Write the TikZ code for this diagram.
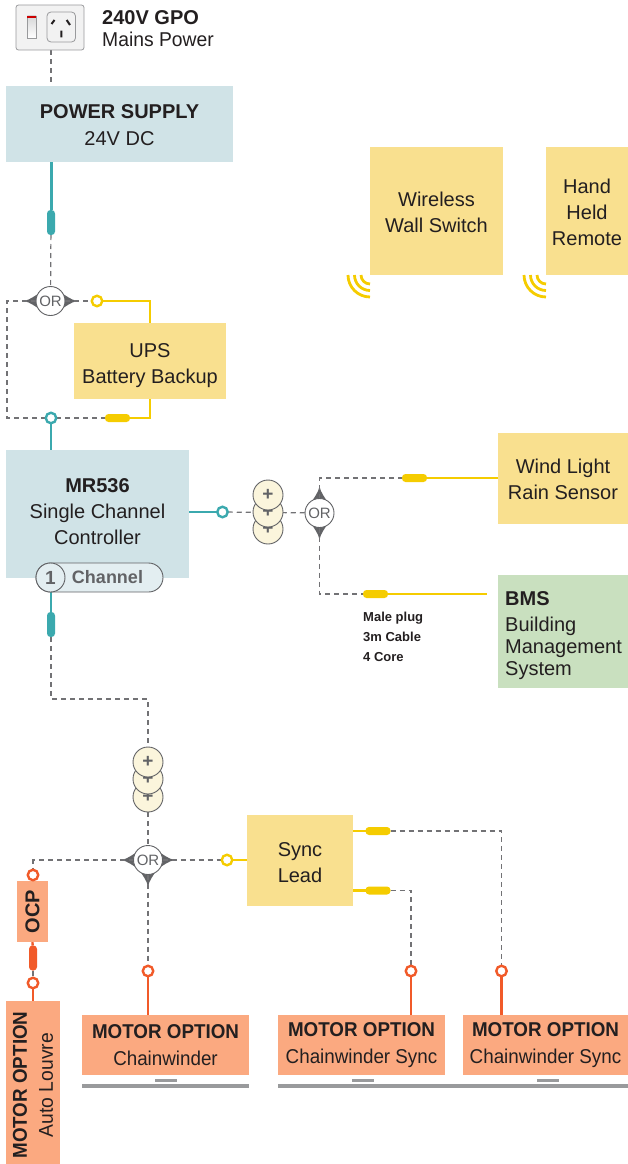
\documentclass[tikz,border=0pt]{standalone}
\usepackage{fontspec}
\setmainfont{Liberation Sans}
\newfontfamily\narrowfont[FakeStretch=.94]{Liberation Sans}
\newfontfamily\softfont[FakeStretch=.965]{Liberation Sans}
\usetikzlibrary{backgrounds}
\definecolor{supplyblue}{HTML}{D0E3E7}
\definecolor{cabteal}{HTML}{3BA9AE}
\definecolor{optyellow}{HTML}{F9E08F}
\definecolor{cabyellow}{HTML}{F5CC00}
\definecolor{motororange}{HTML}{FBA980}
\definecolor{cabred}{HTML}{F15A29}
\definecolor{bmsgreen}{HTML}{C9E0BF}
\definecolor{darktext}{HTML}{231F20}
\definecolor{midgray}{HTML}{626366}
\definecolor{bargray}{HTML}{999A9C}
\definecolor{pluscream}{HTML}{FBF5DC}
\newcommand{\toprow}[1]{\rule{0pt}{#1pt}}
\tikzset{
	box/.style={minimum width=#1, inner sep=0pt, outer sep=0pt, align=center, text=darktext,
		font=\fontsize{20}{26}\selectfont},
	motorbox/.style={box=#1, minimum height=60, fill=motororange, font=\narrowfont\fontsize{20}{26}\selectfont},
	dashline/.style={midgray!90!white, line width=1.2pt, dash pattern=on 5pt off 4pt},
	socket/.style={circle, draw=#1, line width=2.4pt, fill=white, minimum size=10.5pt, inner sep=0pt, outer sep=0pt},
	plugv/.style={fill=#1, rounded corners=3.5pt, minimum width=8pt, minimum height=25pt, inner sep=0pt, outer sep=0pt},
	plugh/.style={fill=#1, rounded corners=3.5pt, minimum width=25pt, minimum height=8pt, inner sep=0pt, outer sep=0pt},
	ornode/.style={circle, draw=midgray, line width=0.9pt, fill=white, minimum size=29pt, inner sep=0pt, outer sep=0pt,
		text=midgray, font=\fontsize{15}{15}\selectfont},
	plusnode/.style={circle, draw=midgray, line width=0.9pt, fill=pluscream, minimum size=30pt, inner sep=0pt, outer sep=0pt,
		text=midgray, font=\bfseries\fontsize{19}{19}\selectfont},
	bar/.style={fill=bargray}
}
\begin{document}
\begin{tikzpicture}[x=1pt, y=-1pt]
\useasboundingbox (0,0) rectangle (628,1164);

\node[draw=bargray, line width=0.8pt, fill=black!5, rounded corners=2.5pt, minimum width=68pt, minimum height=45pt, inner sep=0pt] (gpo) at (50,27.5) {};
\fill[top color=bargray!40, bottom color=white, draw=bargray, line width=0.5pt] (27.3,16) rectangle (36,38);
\fill[red!80!black] (27.3,16) rectangle (36,18.5);
\draw[bargray, line width=0.8pt, fill=black!5, rounded corners=4pt] (47,12) rectangle (75.5,42);
\draw[darktext, line width=2pt] (51.5,24) -- (54.5,20) (70,25) -- (66.7,20) (61.3,30.7) -- (61.3,37.3);
\node[anchor=west, inner sep=0pt, text=darktext, font=\bfseries\fontsize{20}{20}\selectfont] (gpotitle) at (102,18) {240V GPO};
\node[anchor=west, inner sep=0pt, text=darktext, font=\softfont\fontsize{20}{20}\selectfont] (gposub) at (102,39) {Mains Power};

\node[box=227, minimum height=76, fill=supplyblue] (supply) at (119.5,124) {\toprow{16.5}\textbf{POWER SUPPLY}\\[1pt]24V DC};
\node[box=183, minimum height=128, fill=supplyblue] (controller) at (97.5,514) {};
\node[box=183] (controllertext) at (97.5,512) {\textbf{MR536}\\Single Channel\\Controller};
\node[box=152, minimum height=76, fill=optyellow] (ups) at (150,361) {\toprow{23.5}UPS\\Battery Backup};
\node[box=133, minimum height=128, fill=optyellow] (wireless) at (436.5,211) {\toprow{16.5}Wireless\\Wall Switch};
\node[box=82, minimum height=128, fill=optyellow] (remote) at (587,211) {\toprow{16.5}Hand\\Held\\Remote};
\node[box=130, minimum height=91, fill=optyellow] (wind) at (563,478.5) {\toprow{16.5}Wind Light\\Rain Sensor};
\node[box=106, minimum height=91, fill=optyellow] (sync) at (300,860.5) {\toprow{18.5}Sync\\Lead};
\node[motorbox=167] (chainwinder) at (165.5,1045) {\textbf{MOTOR OPTION}\\[0.5pt]Chainwinder};
\node[motorbox=167] (syncone) at (361.5,1045) {\textbf{MOTOR OPTION}\\[0.5pt]Chainwinder Sync};
\node[motorbox=165] (synctwo) at (545.5,1045) {\textbf{MOTOR OPTION}\\[0.5pt]Chainwinder Sync};

\node[box=130, minimum height=113, fill=bmsgreen] (bms) at (563,631.5) {};
\node[anchor=north west, inner sep=0pt, align=left, text=darktext, font=\fontsize{20}{22}\selectfont] (bmstext) at (505,591) {\textbf{BMS}\\[4pt]Building\\Management\\System};
\node[box=31, minimum height=61, fill=motororange] (ocp) at (32.5,911.5) {};
\node[rotate=90, inner sep=0pt, text=darktext, font=\bfseries\fontsize{20}{20}\selectfont] (ocptext) at (ocp) {OCP};
\node[box=54, minimum height=163, fill=motororange] (louvre) at (33,1082.5) {};
\node[rotate=90, inner sep=0pt, align=center, text=darktext, font=\narrowfont\fontsize{20}{26}\selectfont] (louvretext) at (33,1085) {\textbf{MOTOR OPTION}\\{\softfont Auto Louvre}};
\node[anchor=west, inner sep=0pt, align=left, text=darktext, font=\bfseries\fontsize{13}{20}\selectfont] (cablenote) at (363,637) {Male plug\\3m Cable\\4 Core};

\node[rounded corners=14.5pt, draw=midgray, line width=0.9pt, fill=supplyblue!60!white, minimum width=127pt, minimum height=29pt, inner sep=0pt] (pill) at (99.5,577.5) {};
\node[circle, draw=midgray, line width=0.9pt, fill=supplyblue!60!white, minimum size=29pt, inner sep=0pt, text=midgray, font=\bfseries\fontsize{19}{19}\selectfont] (pillnum) at (50.5,577.5) {1};
\node[inner sep=0pt, text=midgray, font=\bfseries\fontsize{18}{18}\selectfont] (pilltext) at (107.5,577) {Channel};

\node[plugv=cabteal] (plugsupply) at (51,222.5) {};
\node[plugv=cabteal] (plugctrl) at (51,624.5) {};
\node[plugv=cabred] (plugocp) at (33,958) {};
\node[plugh=cabyellow] (plugups) at (117.5,418) {};
\node[plugh=cabyellow] (plugwind) at (414.5,478) {};
\node[plugh=cabyellow] (plugbms) at (375.5,594) {};
\node[plugh=cabyellow] (plugsynctop) at (378,831) {};
\node[plugh=cabyellow] (plugsyncbot) at (378,890.5) {};

\foreach \sock/\x/\y/\col in {
	sockin/51/418/cabteal,
	sockctrl/222.5/512/cabteal,
	sockups/97/301/cabyellow,
	socksync/227/860/cabyellow,
	sockocp/33/875/cabred,
	socklouvre/33/983/cabred,
	sockchain/148/971/cabred,
	sockone/411/971/cabred,
	socktwo/501.5/971/cabred}
\node[socket=\col] (\sock) at (\x,\y) {};

\foreach \plus/\x/\y in {
	plusc/268/529,
	plusb/268/512,
	plusa/268/495,
	plusf/148/797,
	pluse/148/779,
	plusd/148/762}
\node[plusnode] (\plus) at (\x,\y) {+};

\node[ornode] (orsupply) at (50.5,301) {OR};
\node[ornode] (orsensor) at (319.5,513) {OR};
\node[ornode] (ormotor) at (148,860) {OR};

\foreach \corner in {370,546}
\foreach \r in {9,15.5,22}
\draw[cabyellow, line width=2.8pt] (\corner-\r,275) arc[start angle=180, end angle=90, radius=\r];

\fill[bar] (82,1084) rectangle (249,1088);
\fill[bar] (278,1084) rectangle (628,1088);
\foreach \x in {166,363,548}
\fill[bar] (\x-11,1079) rectangle (\x+11,1082);

\begin{scope}[on background layer]
\foreach \ornode/\ang in {orsupply/180, orsupply/0, orsensor/90, orsensor/-90, ormotor/180, ormotor/0, ormotor/-90}
\fill[midgray, shift={(\ornode.center)}, rotate=\ang] (26.5,0) .. controls (20,-1.5) and (16,-5) .. (11,-8) -- (11,8) .. controls (16,5) and (20,1.5) .. (26.5,0) -- cycle;

\draw[dashline] (gpo.south -| plugsupply) -- (supply.north -| plugsupply);
\draw[cabteal, line width=3pt] (supply.south -| plugsupply) -- (plugsupply);
\draw[dashline] (plugsupply) -- (orsupply);
\draw[dashline] (orsupply) -- (sockups);
\draw[dashline] (orsupply) -- (7,301) -- (7,418) -- (sockin) -- (plugups);
\draw[cabyellow, line width=2.4pt] (sockups) -| (ups.north);
\draw[cabyellow, line width=2.4pt] (ups.south) |- (plugups);
\draw[cabteal, line width=2.4pt] (sockin) -- (controller.north -| sockin);
\draw[cabteal, line width=2.4pt] (controller.east |- sockctrl) -- (sockctrl);
\draw[cabteal, line width=2.4pt] (pillnum.south -| plugctrl) -- (plugctrl);
\draw[dashline] (sockctrl) -- (orsensor);
\draw[dashline] (orsensor) |- (plugwind);
\draw[dashline] (orsensor) |- (plugbms);
\draw[cabyellow, line width=2pt] (plugwind) -- (wind.west |- plugwind);
\draw[cabyellow, line width=2pt] (plugbms) -- (487,594);
\draw[dashline] (plugctrl) -- (51,699) -- (148,699) -- (plusd);
\draw[dashline] (plusf) -- (ormotor);
\draw[dashline] (ormotor) -- (33,860) -- (sockocp);
\draw[dashline] (ormotor) -- (socksync);
\draw[dashline] (ormotor) -- (sockchain);
\draw[cabyellow, line width=2.4pt] (socksync) -- (sync.west |- socksync);
\draw[cabred, line width=2.4pt] (sockchain) -- (chainwinder.north -| sockchain);
\draw[cabred, line width=2.4pt] (sockone) -- (syncone.north -| sockone);
\draw[cabred, line width=2.4pt] (socktwo) -- (synctwo.north -| socktwo);
\draw[cabred, line width=2.4pt] (socklouvre) -- (louvre.north -| socklouvre);
\draw[cabred, line width=2.4pt] (ocp.south) -- (plugocp);
\draw[dashline] (plugocp) -- (socklouvre);
\draw[cabyellow, line width=2.4pt] (sync.east |- plugsynctop) -- (plugsynctop);
\draw[cabyellow, line width=2.4pt] (sync.east |- plugsyncbot) -- (plugsyncbot);
\draw[dashline] (plugsynctop) -| (socktwo);
\draw[dashline] (plugsyncbot) -| (sockone);
\end{scope}
\end{tikzpicture}
\end{document}
